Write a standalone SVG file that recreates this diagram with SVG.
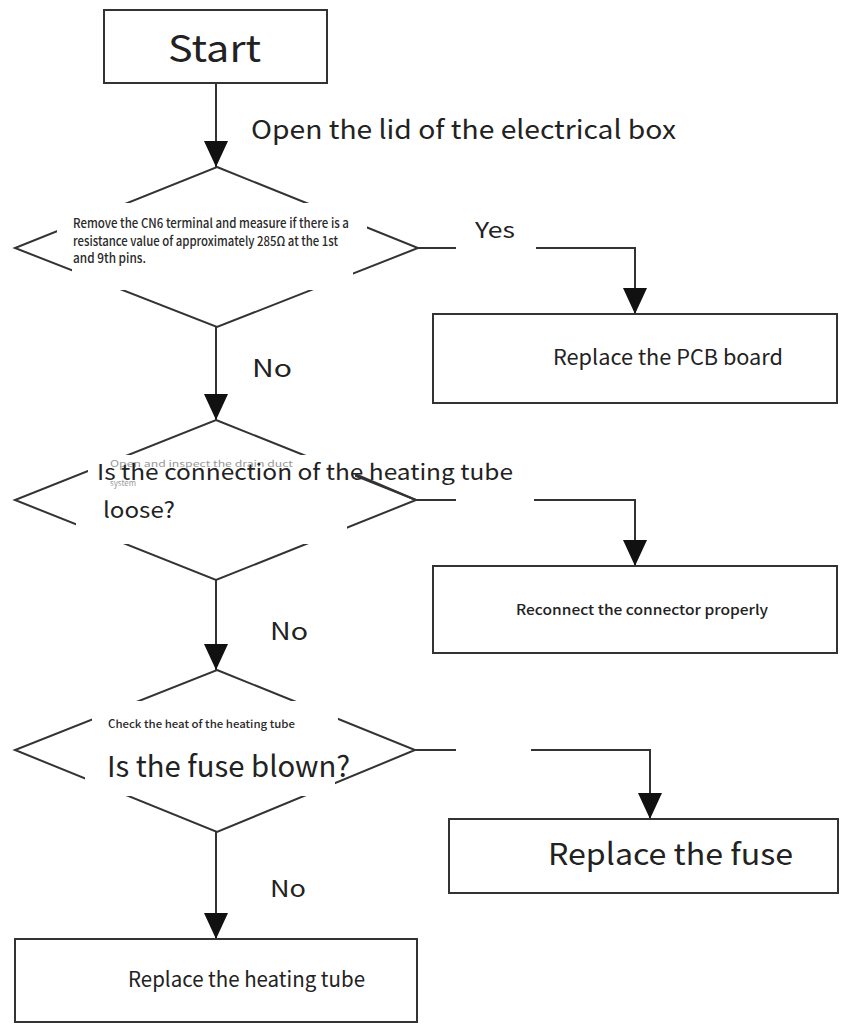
<svg xmlns="http://www.w3.org/2000/svg" width="842" height="1025" viewBox="0 0 842 1025">
  <defs>
    <style>
      .box { fill: #ffffff; stroke: #333333; stroke-width: 2; }
      .dia { fill: #ffffff; stroke: #333333; stroke-width: 2; }
      .ln { fill: none; stroke: #333333; stroke-width: 2; }
      .pad { fill: #ffffff; stroke: none; }
      .t { font-family: "Noto Sans CJK SC", "Noto Sans", "Liberation Sans", sans-serif; fill: #222222; }
      .small { font-family: "Noto Sans CJK SC", "Noto Sans", "Liberation Sans", sans-serif; fill: #2a2a2a; font-weight: 500; }
      .ghost { font-family: "Noto Sans CJK SC", "Noto Sans", "Liberation Sans", sans-serif; fill: #9a9a9a; }
    </style>
    <marker id="arrow" markerUnits="userSpaceOnUse" markerWidth="26" markerHeight="24" refX="26" refY="12" orient="auto">
      <path d="M0,0 L26,12 L0,24 Z" fill="#111111"/>
    </marker>
  </defs>

  <rect width="842" height="1025" fill="#ffffff"/>

  <!-- connectors -->
  <g id="connectors">
    <path class="ln" d="M216,83 V167" marker-end="url(#arrow)"/>
    <path class="ln" d="M216,327 V420" marker-end="url(#arrow)"/>
    <path class="ln" d="M216,580 V670" marker-end="url(#arrow)"/>
    <path class="ln" d="M216,832 V939" marker-end="url(#arrow)"/>

    <path class="ln" d="M418,248 H635 V314" marker-end="url(#arrow)"/>
    <path class="ln" d="M416,500 H635 V566" marker-end="url(#arrow)"/>
    <path class="ln" d="M415,750 H650 V819" marker-end="url(#arrow)"/>

    <!-- label gaps on the side branches -->
    <rect class="pad" x="456" y="212" width="80" height="44"/>
    <rect class="pad" x="456" y="488" width="78" height="24"/>
    <rect class="pad" x="456" y="738" width="75" height="24"/>

    <text class="t" x="475" y="238" font-size="22" textLength="40" lengthAdjust="spacingAndGlyphs">Yes</text>
    <text class="t" x="252" y="377" font-size="24" textLength="40" lengthAdjust="spacingAndGlyphs">No</text>
    <text class="t" x="270" y="640" font-size="24" textLength="38" lengthAdjust="spacingAndGlyphs">No</text>
    <text class="t" x="270" y="897" font-size="23" textLength="36" lengthAdjust="spacingAndGlyphs">No</text>
    <text class="t" x="251" y="139" font-size="26" textLength="425" lengthAdjust="spacingAndGlyphs">Open the lid of the electrical box</text>
  </g>

  <!-- start -->
  <g id="start">
    <rect class="box" x="104" y="10" width="223" height="73"/>
    <text class="t" x="168" y="62" font-size="37" textLength="93" lengthAdjust="spacingAndGlyphs">Start</text>
  </g>

  <!-- decision: CN6 resistance -->
  <g id="check-cn6">
    <polygon class="dia" points="217,167 418,248 217,327 15,248"/>
    <rect class="pad" x="57" y="203" width="310" height="58"/>
    <rect class="pad" x="72" y="203" width="281" height="87"/>
    <text class="small" x="73" y="228" font-size="13" textLength="276" lengthAdjust="spacingAndGlyphs">Remove the CN6 terminal and measure if there is a</text>
    <text class="small" x="73" y="246" font-size="13" textLength="265" lengthAdjust="spacingAndGlyphs">resistance value of approximately 285Ω at the 1st</text>
    <text class="small" x="73" y="263" font-size="13" textLength="73" lengthAdjust="spacingAndGlyphs">and 9th pins.</text>
  </g>

  <!-- action: PCB -->
  <g id="replace-pcb">
    <rect class="box" x="433" y="314" width="404" height="89"/>
    <text class="t" x="553" y="365" font-size="21" textLength="230" lengthAdjust="spacingAndGlyphs">Replace the PCB board</text>
  </g>

  <!-- decision: heating tube connection -->
  <g id="check-connection">
    <polygon class="dia" points="216,420 416,500 216,580 15,500"/>
    <rect class="pad" x="88" y="455" width="267" height="65"/>
    <rect class="pad" x="76" y="505" width="271" height="39"/>
    <text class="ghost" x="110" y="467" font-size="9" textLength="183" lengthAdjust="spacingAndGlyphs">Open and inspect the drain duct</text>
    <text class="ghost" x="110" y="486" font-size="9" textLength="26" lengthAdjust="spacingAndGlyphs">system</text>
    <text class="t" x="97" y="480" font-size="22" textLength="416" lengthAdjust="spacingAndGlyphs">Is the connection of the heating tube</text>
    <text class="t" x="103" y="518" font-size="22" textLength="72" lengthAdjust="spacingAndGlyphs">loose?</text>
    <line class="ln" x1="355" y1="474" x2="416" y2="500"/>
  </g>

  <!-- action: reconnect -->
  <g id="reconnect">
    <rect class="box" x="433" y="566" width="404" height="87"/>
    <text class="t" x="516" y="615" font-size="14" textLength="252" lengthAdjust="spacingAndGlyphs" font-weight="500" fill="#2a2a2a">Reconnect the connector properly</text>
  </g>

  <!-- decision: fuse -->
  <g id="check-fuse">
    <polygon class="dia" points="217,670 415,750 217,832 15,750"/>
    <rect class="pad" x="92" y="701" width="246" height="70"/>
    <rect class="pad" x="85" y="760" width="250" height="36"/>
    <text class="small" x="108" y="728" font-size="11" textLength="187" lengthAdjust="spacingAndGlyphs">Check the heat of the heating tube</text>
    <text class="t" x="107" y="777" font-size="29" textLength="243" lengthAdjust="spacingAndGlyphs">Is the fuse blown?</text>
  </g>

  <!-- action: fuse -->
  <g id="replace-fuse">
    <rect class="box" x="449" y="819" width="389" height="74"/>
    <text class="t" x="548" y="865" font-size="30" textLength="245" lengthAdjust="spacingAndGlyphs">Replace the fuse</text>
  </g>

  <!-- action: heating tube -->
  <g id="replace-tube">
    <rect class="box" x="15" y="939" width="402" height="83"/>
    <text class="t" x="128" y="987" font-size="21" textLength="237" lengthAdjust="spacingAndGlyphs">Replace the heating tube</text>
  </g>
</svg>
